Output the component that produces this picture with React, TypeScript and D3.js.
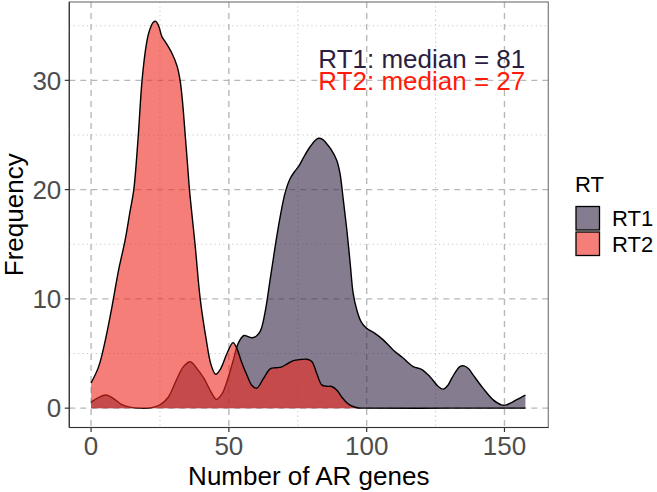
import React from "react";
import * as d3 from "d3";

const rt1X = [0, 2.5, 5.5, 8, 11, 14, 18, 22, 25, 28, 31, 33.5, 36, 38.5, 41, 43.5, 45.5, 47.5, 49.5, 51.5, 53.5, 55.5, 57, 58.5, 60, 61.5, 63, 65, 66.8, 68.6, 70.4, 72.2, 74, 75.5, 77, 79.4, 81.3, 82.5, 84, 85.5, 87.3, 89.1, 90.3, 91.5, 92.8, 94, 95.1, 96.4, 98, 100, 103, 106, 109.6, 113.3, 116.9, 119.9, 122.9, 126, 127.8, 129.5, 131, 133.8, 135.3, 137, 138.6, 142.2, 145.9, 148.9, 150.7, 152.5, 154.3, 157.6];
const rt1Y = [0.55, 0.95, 1.2, 0.9, 0.35, 0.1, 0.0, 0.05, 0.3, 1.0, 2.6, 3.8, 4.25, 3.6, 2.7, 1.5, 0.8, 1.3, 2.6, 4.3, 6.0, 6.65, 6.55, 6.45, 6.6, 7.1, 8.6, 11.8, 14.8, 17.5, 19.7, 21.0, 21.7, 22.2, 22.9, 23.9, 24.5, 24.7, 24.6, 24.2, 23.6, 22.7, 21.5, 19.1, 16.3, 13.3, 10.5, 9.0, 7.9, 7.3, 6.85, 6.25, 5.33, 4.57, 3.8, 3.55, 2.9, 1.98, 1.74, 2.1, 2.8, 3.8, 3.87, 3.6, 3.05, 1.83, 0.76, 0.3, 0.3, 0.5, 0.76, 1.2];

const rt2X = [0, 2.75, 5.2, 7.6, 10, 12.3, 14, 15.5, 17, 18.5, 20, 21, 22.5, 23.5, 24.5, 25.7, 27, 29.3, 31.2, 32.3, 33.2, 34, 35, 35.7, 37.8, 39.6, 41.8, 43.5, 45.2, 47, 49.3, 51.5, 53, 54.5, 56.5, 58.3, 60.1, 62.5, 65, 67, 69, 71.5, 73.4, 76, 78.3, 80.1, 82, 83.7, 85.5, 87.3, 89.1, 91, 93, 95, 97, 100, 130, 157.6];
const rt2Y = [2.3, 3.8, 6.25, 9.3, 12.65, 15.3, 17.8, 20, 24.5, 30, 33.2, 34.4, 35.3, 35.4, 35.0, 34.0, 33.5, 32.5, 31.3, 30, 28, 25.5, 22.3, 20, 14.8, 10, 6.25, 4.0, 3.1, 3.6, 5.0, 6.0, 5.4, 4.3, 3.05, 2.1, 1.83, 2.7, 3.6, 3.7, 3.75, 4.1, 4.35, 4.45, 4.48, 4.27, 3.1, 2.13, 2.0, 1.98, 1.67, 1.0, 0.45, 0.15, 0.02, 0, 0, 0];

const series = ["RT1", "RT2"];
const seriesColors = ["#342544", "#EE2A1E"];
const textColors = ["#2B1E40", "#FF1A0A"];
const medians = [81, 27];
const xTicks = [0, 50, 100, 150];
const xMinor = [25, 75, 125];
const yTicks = [0, 10, 20, 30];
const yMinor = [5, 15, 25, 35];

const W = 657, H = 492;
const FONT = "'Liberation Sans', Arial, Helvetica, sans-serif";

export default function App() {
  const x = d3.scaleLinear().domain([-7.9, 165.9]).range([69.3, 548.3]);
  const y = d3.scaleLinear().domain([-1.77, 37.17]).range([427.5, 2]);
  const left = x.range()[0], right = x.range()[1];
  const top = y.range()[1], bottom = y.range()[0];

  const data = [
    rt1X.map((v, i) => [v, rt1Y[i]] as [number, number]),
    rt2X.map((v, i) => [v, rt2Y[i]] as [number, number]),
  ];
  const area = d3.area<[number, number]>()
    .x(d => x(d[0])).y0(y(0)).y1(d => y(d[1]))
    .curve(d3.curveCatmullRom.alpha(0.5));
  const line = d3.line<[number, number]>()
    .x(d => x(d[0])).y(d => y(d[1]))
    .curve(d3.curveCatmullRom.alpha(0.5));

  return (
    <svg width={W} height={H} style={{ position: "absolute", left: 0, top: 0, background: "#fff" }} fontFamily={FONT}>
      <rect x={0} y={0} width={W} height={H} fill="#fff" />
      {/* grid */}
      {yMinor.map(t => (
        <line key={"ym" + t} x1={left} x2={right} y1={y(t)} y2={y(t)} stroke="#C4C4C4" strokeWidth={1.1} strokeDasharray="1.1,3.3" />
      ))}
      {xMinor.map(t => (
        <line key={"xm" + t} x1={x(t)} x2={x(t)} y1={top} y2={bottom} stroke="#C4C4C4" strokeWidth={1.1} strokeDasharray="1.1,3.3" />
      ))}
      {yTicks.map(t => (
        <line key={"yg" + t} x1={left} x2={right} y1={y(t)} y2={y(t)} stroke="#B8B8B8" strokeWidth={1.4} strokeDasharray="6,5" />
      ))}
      {xTicks.map(t => (
        <line key={"xg" + t} x1={x(t)} x2={x(t)} y1={top} y2={bottom} stroke="#B8B8B8" strokeWidth={1.4} strokeDasharray="6,5" />
      ))}
      {/* densities */}
      {data.map((d, i) => (
        <g key={series[i]}>
          <path d={area(d) || ""} fill={seriesColors[i]} fillOpacity={0.6} />
          <path d={line(d) || ""} fill="none" stroke="#000" strokeWidth={1.4} />
        </g>
      ))}
      {/* annotations */}
      {medians.map((m, i) => (
        <text key={"ann" + i} x={x(120)} y={y(31.1 - 2 * i)} textAnchor="middle" fontSize={26} fill={textColors[i]}>
          {`${series[i]}: median = ${m}`}
        </text>
      ))}
      {/* panel border */}
      <rect x={left} y={top} width={right - left} height={bottom - top} fill="none" stroke="#7A7A7A" strokeWidth={1.2} />
      <line x1={left} x2={left} y1={top} y2={bottom} stroke="#333" strokeWidth={1.2} />
      <line x1={left} x2={right} y1={bottom} y2={bottom} stroke="#333" strokeWidth={1.2} />
      {/* ticks */}
      {yTicks.map(t => (
        <g key={"yt" + t}>
          <line x1={left - 4.5} x2={left} y1={y(t)} y2={y(t)} stroke="#333" strokeWidth={1.2} />
          <text x={left - 8} y={y(t) + 9.3} textAnchor="end" fontSize={26} fill="#4D4D4D">{t}</text>
        </g>
      ))}
      {xTicks.map(t => (
        <g key={"xt" + t}>
          <line x1={x(t)} x2={x(t)} y1={bottom} y2={bottom + 4.5} stroke="#333" strokeWidth={1.2} />
          <text x={x(t)} y={455} textAnchor="middle" fontSize={26} fill="#4D4D4D">{t}</text>
        </g>
      ))}
      {/* axis titles */}
      <text x={(left + right) / 2} y={485} textAnchor="middle" fontSize={26} fill="#000">Number of AR genes</text>
      <text transform={`translate(23,${(top + bottom) / 2}) rotate(-90)`} textAnchor="middle" fontSize={26} fill="#000">Frequency</text>
      {/* legend */}
      <text x={575} y={191.5} fontSize={22} fill="#000">RT</text>
      {series.map((s, i) => (
        <g key={"lg" + s}>
          <rect x={576} y={206.5 + i * 25.5} width={23.5} height={23.5} fill="#fff" />
          <rect x={576} y={206.5 + i * 25.5} width={23.5} height={23.5} fill={seriesColors[i]} fillOpacity={0.6} stroke="#000" strokeWidth={1.3} />
          <text x={612} y={206.5 + i * 25.5 + 19.5} fontSize={22} fill="#000">{s}</text>
        </g>
      ))}
    </svg>
  );
}
